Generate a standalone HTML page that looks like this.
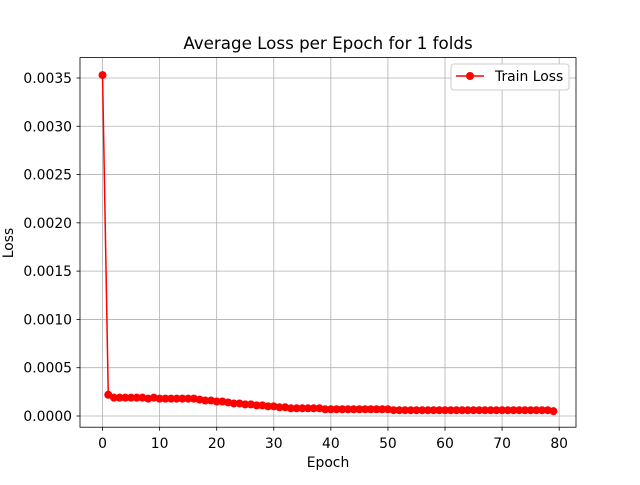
<!DOCTYPE html>
<html><head><meta charset="utf-8"><style>
body{margin:0;background:#fff;font-family:"Liberation Sans","DejaVu Sans",sans-serif;}
svg text{font-family:"DejaVu Sans","Liberation Sans",sans-serif;}
</style></head><body>
<svg id="chart" width="640" height="480" xmlns="http://www.w3.org/2000/svg">
<rect width="640" height="480" fill="#fff"/>
<g id="grid"></g><g id="axes"></g><g id="series"></g>
<text x="328" y="49" font-size="16.7" text-anchor="middle">Average Loss per Epoch for 1 folds</text>
<text x="328" y="467" font-size="13.9" text-anchor="middle">Epoch</text>
<text x="13" y="243" font-size="13.9" text-anchor="middle" transform="rotate(-90 13 243)">Loss</text>
<g>
<rect x="451" y="64" width="118" height="26" rx="3" fill="#fff" stroke="#ccc"/>
<line x1="456" y1="76" x2="484" y2="76" stroke="#f00" stroke-width="1.5"/>
<circle cx="470" cy="76" r="4" fill="#f00"/>
<text x="495" y="81" font-size="13.9">Train Loss</text>
</g>
</svg>
<script>
const epochs=[];for(let i=0;i<80;i++)epochs.push(i);
const trainLoss=[0.00353,0.00022,0.00019,0.00019,0.00019,0.00019,0.00019,0.00019,0.00018,0.00019,0.00018,0.00018,0.00018,0.00018,0.00018,0.00018,0.00018,0.00017,0.00016,0.00016,0.00015,0.00015,0.00014,0.00013,0.00013,0.00012,0.00012,0.00011,0.00011,0.0001,0.0001,0.00009,0.00009,0.00008,0.00008,0.00008,0.00008,0.00008,0.00008,0.00007,0.00007,0.00007,0.00007,0.00007,0.00007,0.00007,0.00007,0.00007,0.00007,0.00007,0.00007,0.00006,0.00006,0.00006,0.00006,0.00006,0.00006,0.00006,0.00006,0.00006,0.00006,0.00006,0.00006,0.00006,0.00006,0.00006,0.00006,0.00006,0.00006,0.00006,0.00006,0.00006,0.00006,0.00006,0.00006,0.00006,0.00006,0.00006,0.00006,0.00005];
const xTicks=[0,10,20,30,40,50,60,70,80];
const yTicks=[0,0.0005,0.001,0.0015,0.002,0.0025,0.003,0.0035];
const yTickLabels=["0.0000","0.0005","0.0010","0.0015","0.0020","0.0025","0.0030","0.0035"];
const L=80,R=576,T=57.6,B=427.2;
const xmin=-3.95,xmax=82.95,ymin=-0.000116,ymax=0.003711;
const sx=v=>L+(v-xmin)/(xmax-xmin)*(R-L);
const sy=v=>B-(v-ymin)/(ymax-ymin)*(B-T);
const NS="http://www.w3.org/2000/svg";
function mk(tag,attrs,parent){const e=document.createElementNS(NS,tag);for(const k in attrs)e.setAttribute(k,attrs[k]);document.getElementById(parent).appendChild(e);return e;}
xTicks.forEach(t=>{const x=sx(t);
let g=mk('line',{x1:x,x2:x,y1:T,y2:B,stroke:'#b0b0b0','stroke-width':0.8},'grid');


mk('line',{x1:x,x2:x,y1:B,y2:B+3.5,stroke:'#000','stroke-width':0.8},'axes');
let tx=mk('text',{x:x,y:B+21,'font-size':13.9,'text-anchor':'middle'},'axes');tx.textContent=t;

});
yTicks.forEach((t,i)=>{const y=sy(t);
let g=mk('line',{x1:L,x2:R,y1:y,y2:y,stroke:'#b0b0b0','stroke-width':0.8},'grid');


mk('line',{x1:L-3.5,x2:L,y1:y,y2:y,stroke:'#000','stroke-width':0.8},'axes');
let tx=mk('text',{x:L-8,y:y+5,'font-size':13.9,'text-anchor':'end'},'axes');tx.textContent=yTickLabels[i];

});
const frame=mk('rect',{x:L,y:T,width:R-L,height:B-T,fill:'none',stroke:'#000','stroke-width':0.8},'axes');


const pl=mk('polyline',{points:epochs.map((e,i)=>sx(e)+','+sy(trainLoss[i])).join(' '),fill:'none',stroke:'#f00','stroke-width':1.5},'series');


epochs.forEach((e,i)=>{const c=mk('circle',{cx:sx(e),cy:sy(trainLoss[i]),r:4,fill:'#f00'},'series');

});
</script>
</body></html>
